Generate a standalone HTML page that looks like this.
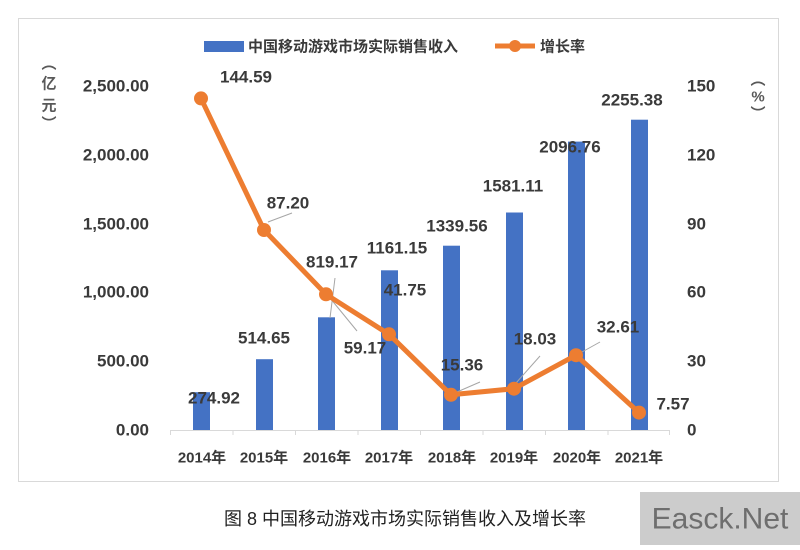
<!DOCTYPE html>
<html><head><meta charset="utf-8"><style>
html,body{margin:0;padding:0;background:#fff;}
svg text{font-family:"Liberation Sans","Noto Sans CJK SC",sans-serif;}
</style></head><body>
<svg width="800" height="545" xmlns="http://www.w3.org/2000/svg">
<rect x="18.5" y="18.5" width="760" height="463" fill="#fff" stroke="#d9d9d9"/>
<line x1="170" y1="430.5" x2="670" y2="430.5" stroke="#d9d9d9"/>
<g stroke="#d9d9d9">
<line x1="170.5" y1="430" x2="170.5" y2="435"/><line x1="233" y1="430" x2="233" y2="435"/><line x1="295.5" y1="430" x2="295.5" y2="435"/><line x1="358" y1="430" x2="358" y2="435"/><line x1="420.5" y1="430" x2="420.5" y2="435"/><line x1="483" y1="430" x2="483" y2="435"/><line x1="545.5" y1="430" x2="545.5" y2="435"/><line x1="608" y1="430" x2="608" y2="435"/><line x1="669.5" y1="430" x2="669.5" y2="435"/>
</g>
<g fill="#4472C4">
<rect x="193" y="392.2" width="17" height="37.8"/>
<rect x="256" y="359.2" width="17" height="70.8"/>
<rect x="318" y="317.3" width="17" height="112.7"/>
<rect x="381" y="270.3" width="17" height="159.7"/>
<rect x="443" y="245.7" width="17" height="184.3"/>
<rect x="506" y="212.5" width="17" height="217.5"/>
<rect x="568" y="141.6" width="17" height="288.4"/>
<rect x="631" y="119.7" width="17" height="310.3"/>
</g>
<g stroke="#a6a6a6" stroke-width="1">
<line x1="268" y1="222" x2="292" y2="213"/>
<line x1="335" y1="278" x2="330" y2="318"/>
<line x1="330" y1="298" x2="357" y2="331"/>
<line x1="457" y1="392" x2="480" y2="382"/>
<line x1="516" y1="383" x2="540" y2="356"/>
<line x1="582" y1="352" x2="600" y2="342"/>
</g>
<polyline fill="none" stroke="#ED7D31" stroke-width="5" stroke-linejoin="round" points="201,98.4 264,230 326,294.3 389,334.3 451,394.8 514,388.7 576,355.2 639,412.6"/>
<g fill="#ED7D31">
<circle cx="201" cy="98.4" r="7"/><circle cx="264" cy="230" r="7"/><circle cx="326" cy="294.3" r="7"/><circle cx="389" cy="334.3" r="7"/><circle cx="451" cy="394.8" r="7"/><circle cx="514" cy="388.7" r="7"/><circle cx="576" cy="355.2" r="7"/><circle cx="639" cy="412.6" r="7"/>
</g>
<g fill="#3a3a3a" font-size="17" font-weight="bold" text-anchor="middle" dominant-baseline="central">
<text x="214" y="398">274.92</text>
<text x="264" y="338">514.65</text>
<text x="332" y="262">819.17</text>
<text x="397" y="248">1161.15</text>
<text x="457" y="226">1339.56</text>
<text x="513" y="186">1581.11</text>
<text x="570" y="147">2096.76</text>
<text x="632" y="100">2255.38</text>
<text x="246" y="77">144.59</text>
<text x="288" y="203">87.20</text>
<text x="365" y="348">59.17</text>
<text x="405" y="290">41.75</text>
<text x="462" y="365">15.36</text>
<text x="535" y="339">18.03</text>
<text x="618" y="327">32.61</text>
<text x="673" y="404">7.57</text>
</g>
<g fill="#3a3a3a" font-size="17" font-weight="bold" text-anchor="end" dominant-baseline="central">
<text x="149" y="86">2,500.00</text><text x="149" y="155">2,000.00</text><text x="149" y="224">1,500.00</text><text x="149" y="292">1,000.00</text><text x="149" y="361">500.00</text><text x="149" y="430">0.00</text>
</g>
<g fill="#3a3a3a" font-size="17" font-weight="bold" text-anchor="start" dominant-baseline="central">
<text x="687" y="86">150</text><text x="687" y="155">120</text><text x="687" y="224">90</text><text x="687" y="292">60</text><text x="687" y="361">30</text><text x="687" y="430">0</text>
</g>
<g fill="#3a3a3a" font-size="15" font-weight="bold" text-anchor="middle" dominant-baseline="central">
<text x="202" y="458">2014年</text><text x="264" y="458">2015年</text><text x="327" y="458">2016年</text><text x="389" y="458">2017年</text><text x="452" y="458">2018年</text><text x="514" y="458">2019年</text><text x="577" y="458">2020年</text><text x="639" y="458">2021年</text>
</g>
<g fill="#595959" font-size="15" font-weight="bold" text-anchor="middle" dominant-baseline="central">
<text x="49" y="64">︵</text><text x="49" y="84">亿</text><text x="49" y="106">元</text><text x="49" y="124">︶</text>
<text x="758" y="80">︵</text><text x="758" y="97">%</text><text x="758" y="114">︶</text>
</g>
<rect x="204" y="41" width="40" height="11" fill="#4472C4"/>
<text x="248" y="47" font-size="15" font-weight="bold" fill="#3a3a3a" dominant-baseline="central">中国移动游戏市场实际销售收入</text>
<line x1="495" y1="46" x2="535" y2="46" stroke="#ED7D31" stroke-width="5"/>
<circle cx="515" cy="46" r="6" fill="#ED7D31"/>
<text x="540" y="47" font-size="15" font-weight="bold" fill="#3a3a3a" dominant-baseline="central">增长率</text>
<text x="405" y="519" font-size="18" fill="#222" text-anchor="middle" dominant-baseline="central">图 8 中国移动游戏市场实际销售收入及增长率</text>
<rect x="640" y="492" width="160" height="53" fill="#cccccc"/>
<text x="720" y="519" font-size="30" fill="#6e6e6e" text-anchor="middle" dominant-baseline="central">Easck.Net</text>
</svg>
</body></html>
